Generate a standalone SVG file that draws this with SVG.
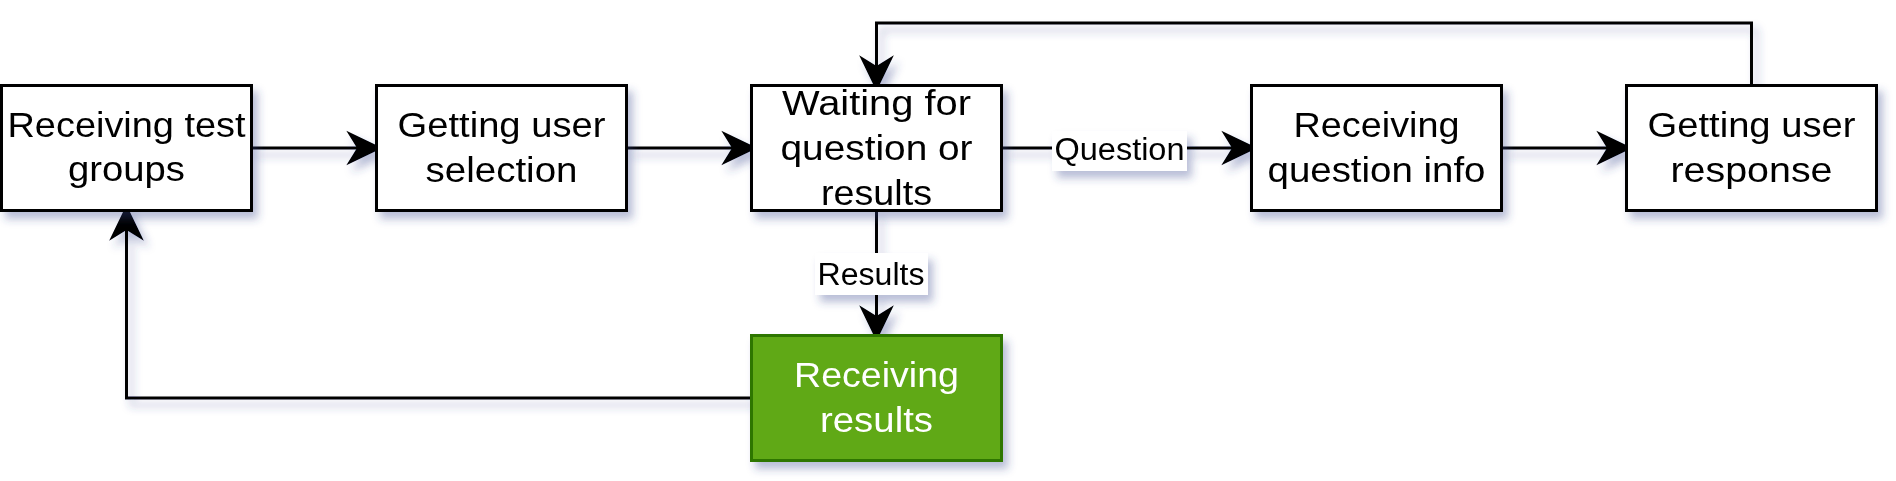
<svg xmlns="http://www.w3.org/2000/svg" width="1896" height="481" viewBox="0 0 1896 481">
<style>
.box{fill:#ffffff;stroke:#000000;stroke-width:3}
.green{fill:#60a917;stroke:#2d7600;stroke-width:3}
.t{font-family:"Liberation Sans",Arial,sans-serif;font-size:35px;fill:#000000;text-anchor:middle}
.tw{fill:#ffffff}
.lbl{font-family:"Liberation Sans",Arial,sans-serif;font-size:31px;fill:#000000;text-anchor:middle}
.edge{fill:none;stroke:#000000;stroke-width:3}
.lblbg{fill:#ffffff}
</style>
<defs>
<filter id="sh" x="-20%" y="-20%" width="150%" height="160%">
<feDropShadow dx="5" dy="7" stdDeviation="4" flood-color="#34408a" flood-opacity="0.35"/>
</filter>
<marker id="arr" markerUnits="userSpaceOnUse" markerWidth="40" markerHeight="40" viewBox="-10 -15 30 30" refX="0" refY="0" orient="auto" overflow="visible">
<path d="M19,0 L-8,-13 L0,0 L-8,13 Z" fill="#000000"/>
</marker>
</defs>
<rect width="1896" height="481" fill="#ffffff"/>
<g id="connectors" filter="url(#sh)">
<path class="edge" d="M251,148 L357,148" marker-end="url(#arr)"/>
<path class="edge" d="M627,148 L732,148" marker-end="url(#arr)"/>
<path class="edge" d="M1002,148 L1232,148" marker-end="url(#arr)"/>
<path class="edge" d="M1502,148 L1607,148" marker-end="url(#arr)"/>
<path class="edge" d="M1751.5,85 V23 H876.5 V66" marker-end="url(#arr)"/>
<path class="edge" d="M876.5,211 V316" marker-end="url(#arr)"/>
<path class="edge" d="M751,398 H126.5 V230" marker-end="url(#arr)"/>
<g id="label-question">
<rect class="lblbg" x="1052" y="131" width="135" height="40"/>
<text class="lbl" x="1119.5" y="160" textLength="130" lengthAdjust="spacingAndGlyphs">Question</text>
</g>
<g id="label-results">
<rect class="lblbg" x="815" y="253" width="113" height="42"/>
<text class="lbl" x="871" y="285" textLength="107" lengthAdjust="spacingAndGlyphs">Results</text>
</g>
</g>
<g id="n1" filter="url(#sh)">
<rect class="box" x="1.5" y="85.5" width="250" height="125"/>
<text class="t" x="126.5" y="137" textLength="238" lengthAdjust="spacingAndGlyphs">Receiving test</text>
<text class="t" x="126.5" y="181" textLength="117" lengthAdjust="spacingAndGlyphs">groups</text>
</g>
<g id="n2" filter="url(#sh)">
<rect class="box" x="376.5" y="85.5" width="250" height="125"/>
<text class="t" x="501.5" y="137" textLength="208" lengthAdjust="spacingAndGlyphs">Getting user</text>
<text class="t" x="501.5" y="182" textLength="152" lengthAdjust="spacingAndGlyphs">selection</text>
</g>
<g id="n3" filter="url(#sh)">
<rect class="box" x="751.5" y="85.5" width="250" height="125"/>
<text class="t" x="876.5" y="115" textLength="189" lengthAdjust="spacingAndGlyphs">Waiting for</text>
<text class="t" x="876.5" y="160" textLength="192" lengthAdjust="spacingAndGlyphs">question or</text>
<text class="t" x="876.5" y="205" textLength="111" lengthAdjust="spacingAndGlyphs">results</text>
</g>
<g id="n4" filter="url(#sh)">
<rect class="box" x="1251.5" y="85.5" width="250" height="125"/>
<text class="t" x="1376.5" y="137" textLength="166" lengthAdjust="spacingAndGlyphs">Receiving</text>
<text class="t" x="1376.5" y="182" textLength="218" lengthAdjust="spacingAndGlyphs">question info</text>
</g>
<g id="n5" filter="url(#sh)">
<rect class="box" x="1626.5" y="85.5" width="250" height="125"/>
<text class="t" x="1751.5" y="137" textLength="208" lengthAdjust="spacingAndGlyphs">Getting user</text>
<text class="t" x="1751.5" y="182" textLength="162" lengthAdjust="spacingAndGlyphs">response</text>
</g>
<g id="n6" filter="url(#sh)">
<rect class="green" x="751.5" y="335.5" width="250" height="125"/>
<text class="t tw" x="876.5" y="387" textLength="165" lengthAdjust="spacingAndGlyphs">Receiving</text>
<text class="t tw" x="876.5" y="432" textLength="113" lengthAdjust="spacingAndGlyphs">results</text>
</g>
</svg>
